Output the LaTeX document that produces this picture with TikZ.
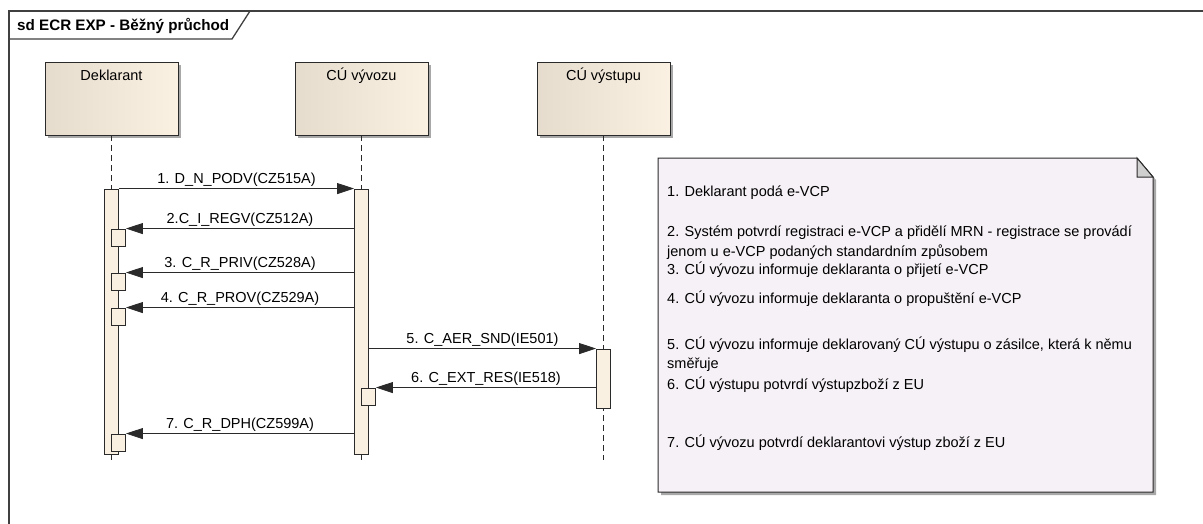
\documentclass[tikz,border=0pt]{standalone}
\usepackage{fontspec}
\setmainfont{Liberation Sans}
\usetikzlibrary{arrows.meta,shadows,calc}
\definecolor{framec}{HTML}{404040}
\definecolor{headL}{HTML}{E6DCCE}
\definecolor{headR}{HTML}{FBF1E3}
\definecolor{barc}{HTML}{FAF0E2}
\definecolor{notec}{HTML}{F6F1F6}
\definecolor{foldc}{HTML}{CFCFCF}
\definecolor{shadc}{HTML}{A8A8A8}
\definecolor{linec}{HTML}{2A2A2A}
\begin{document}
\begin{tikzpicture}[x=1pt,y=-1pt,
  txt/.style={font=\fontsize{14.5}{19.5}\selectfont},
  frame/.style={draw=framec,line width=1.3pt},
  head/.style={draw=linec,line width=0.9pt,left color=headL,right color=headR,
    minimum width=133,minimum height=73,inner sep=0,
    drop shadow={shadow xshift=3pt,shadow yshift=-3pt,fill=shadc,opacity=1}},
  headlbl/.style={txt,anchor=base,yshift=-19pt,inner sep=0},
  life/.style={draw=linec,line width=0.8pt,dash pattern=on 6pt off 4pt},
  bar/.style={draw=linec,line width=0.9pt,fill=barc,minimum width=14,inner sep=0},
  sbox/.style={draw=linec,line width=0.9pt,fill=barc,minimum width=14,minimum height=17,inner sep=0},
  msg/.style={draw=linec,line width=0.8pt,-{Triangle[length=17pt,width=11pt]}},
  lbl/.style={txt,above,inner sep=1.5pt},
  notetxt/.style={txt,anchor=base west,align=left,inner sep=0}
]
\useasboundingbox (0,0) rectangle (1203,523);
\clip (0,0) rectangle (1203,523);
% frame
\draw[frame,fill=white] (9,11) rectangle (1215,540);
\draw[frame] (9,39) -- (232,39) -- (250,11);
\node[anchor=base west,inner sep=0,font=\fontsize{15.2}{17}\selectfont\bfseries] (title) at (17,30) {sd ECR EXP - Běžný průchod};
% heads
\node[head,label={[headlbl]north:Deklarant}] (h1) at (111.5,98.5) {};
\node[head,label={[headlbl]north:CÚ vývozu}] (h2) at (361.5,98.5) {};
\node[head,label={[headlbl]north:CÚ výstupu}] (h3) at (603.5,98.5) {};
% lifelines
\coordinate (e1) at (111.5,460);
\coordinate (e2) at (361.5,460);
\coordinate (e3) at (603.5,460);
\draw[life] (h1.south) -- (e1);
\draw[life] (h2.south) -- (e2);
\draw[life] (h3.south) -- (e3);
% activation bars
\node[bar,minimum height=265] (b1) at (111.5,321.5) {};
\node[bar,minimum height=265] (b2) at (361.5,321.5) {};
\node[bar,minimum height=59] (b3) at (603.5,378.5) {};
% self boxes
\node[sbox] (s2) at (118.5,237.5) {};
\node[sbox] (s3) at (118.5,281.5) {};
\node[sbox] (s4) at (118.5,316.5) {};
\node[sbox] (s7) at (118.5,442.5) {};
\node[sbox] (s6) at (368.5,396.5) {};
% messages
\draw[msg] (b1.north east) -- node[lbl] {1. D\_N\_PODV(CZ515A)} (b2.north west);
\draw[msg] (b2.west |- s2.north east) -- node[lbl] {2.C\_I\_REGV(CZ512A)} (s2.north east);
\draw[msg] (b2.west |- s3.north east) -- node[lbl] {3. C\_R\_PRIV(CZ528A)} (s3.north east);
\draw[msg] (b2.west |- s4.north east) -- node[lbl] {4. C\_R\_PROV(CZ529A)} (s4.north east);
\draw[msg] (b2.east |- b3.north west) -- node[lbl] {5. C\_AER\_SND(IE501)} (b3.north west);
\draw[msg] (b3.west |- s6.north east) -- node[lbl] {6. C\_EXT\_RES(IE518)} (s6.north east);
\draw[msg] (b2.west |- s7.north east) -- node[lbl] {7. C\_R\_DPH(CZ599A)} (s7.north east);
% note
\path[draw=linec,line width=1pt,fill=notec,
  drop shadow={shadow xshift=3pt,shadow yshift=-3pt,fill=shadc,opacity=1}]
  (658,158) -- (1137,158) -- (1153,177) -- (1153,492) -- (658,492) -- cycle;
\draw[draw=linec,line width=1pt,fill=foldc] (1137,158) -- (1137,177) -- (1153,177) -- cycle;
\node[notetxt] (n1) at (667,196) {1. Deklarant podá e-VCP};
\node[notetxt] (n2) at (667,256) {2. Systém potvrdí registraci e-VCP a přidělí MRN - registrace se provádí\\jenom u e-VCP podaných standardním způsobem};
\node[notetxt] (n3) at (667,274.5) {3. CÚ vývozu informuje deklaranta o přijetí e-VCP};
\node[notetxt] (n4) at (667,303) {4. CÚ vývozu informuje deklaranta o propuštění e-VCP};
\node[notetxt] (n5) at (667,368.5) {5. CÚ vývozu informuje deklarovaný CÚ výstupu o zásilce, která k němu\\směřuje};
\node[notetxt] (n6) at (667,389) {6. CÚ výstupu potvrdí výstupzboží z EU};
\node[notetxt] (n7) at (667,447) {7. CÚ vývozu potvrdí deklarantovi výstup zboží z EU};
\end{tikzpicture}
\end{document}
